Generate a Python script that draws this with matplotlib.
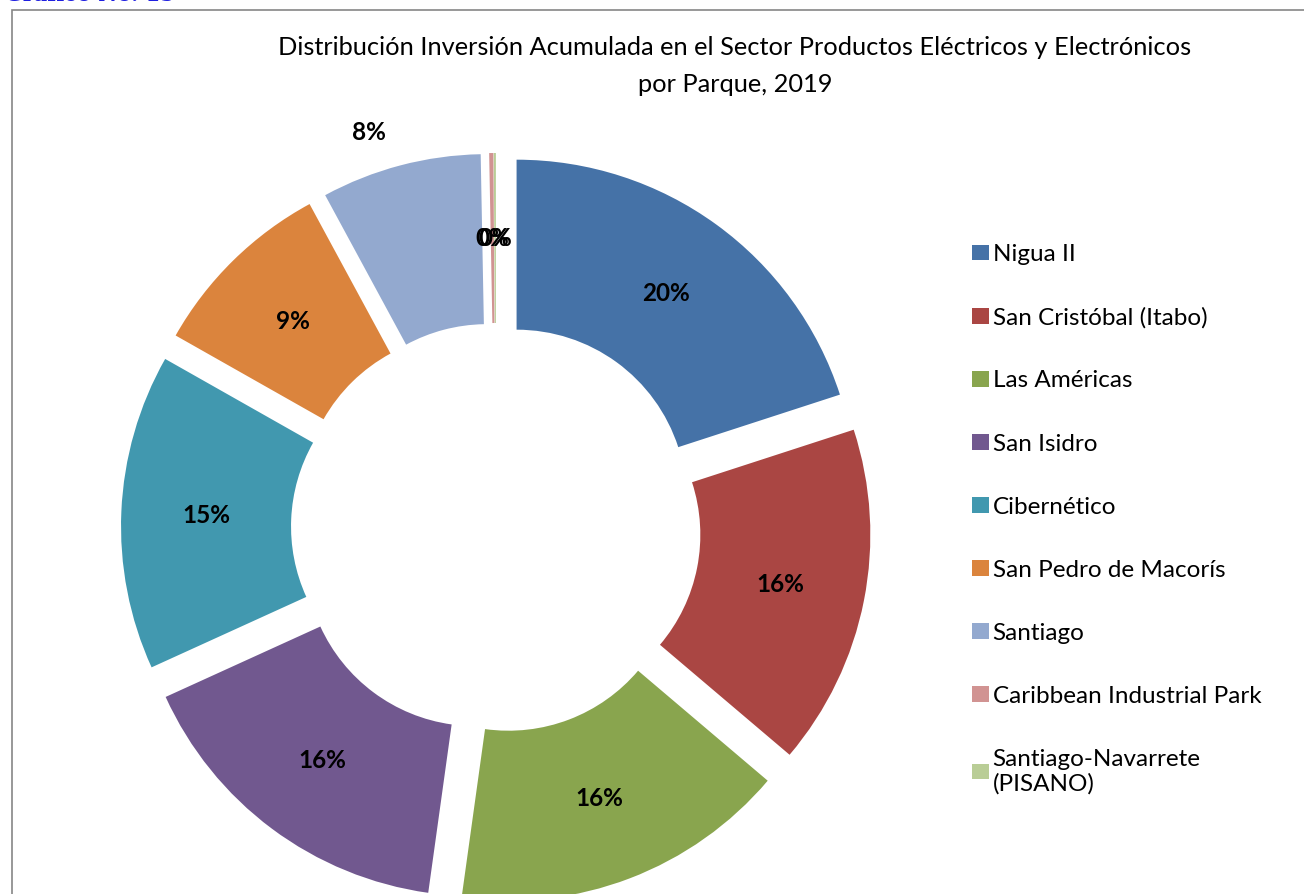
import numpy as np
import matplotlib.pyplot as plt
from matplotlib.patches import Rectangle

plt.rcParams["font.family"] = ["Lato", "DejaVu Sans"]

parques = ["Nigua II", "San Cristóbal (Itabo)", "Las Américas", "San Isidro",
           "Cibernético", "San Pedro de Macorís", "Santiago",
           "Caribbean Industrial Park", "Santiago-Navarrete\n(PISANO)"]
inversion = [20.0, 16.2, 16.0, 16.0, 15.0, 8.9, 7.6, 0.2, 0.1]
colores = ["#4572A7", "#AA4643", "#89A54E", "#71588F", "#4198AF",
           "#DB843D", "#93A9CF", "#D19392", "#B9CD96"]

titulo = ("Distribución Inversión Acumulada en el Sector Productos Eléctricos y Electrónicos\n"
          "por Parque, 2019")

fig = plt.figure(figsize=(13.04, 8.94), dpi=100)
ax = fig.add_axes([0, 0, 1, 1])

radio = 340
centro = (496, 366)
separa = 35
wedges, texts, autotexts = ax.pie(
    inversion, colors=colores, startangle=90, counterclock=False,
    center=centro, radius=radio, explode=[separa] * len(inversion),
    wedgeprops=dict(width=170, edgecolor="none"),
    autopct="%1.0f%%", pctdistance=0.75,
    textprops=dict(fontsize=17.5, fontweight="bold", color="black"))

ax.set_xlim(0, 1304)
ax.set_ylim(0, 894)
ax.set_aspect("equal")
ax.axis("off")

# Santiago label sits outside the ring
w = wedges[6]
ang = np.deg2rad((w.theta1 + w.theta2) / 2 + 3)
autotexts[6].set_position((centro[0] + (separa + radio * 1.12) * np.cos(ang),
                           centro[1] + (separa + radio * 1.12) * np.sin(ang)))

# chart frame (cropped at right and bottom)
fig.add_artist(Rectangle((11.5 / 1304, -0.1), 1.2, 1 - 10.5 / 894 + 0.1,
                         transform=fig.transFigure, fill=False,
                         edgecolor="#868686", linewidth=1.2))

fig.text(0.004, 1.006, "Gráfico No. 15", fontsize=15, fontweight="bold",
         color="#1F1FE0", family="DejaVu Serif", va="center", ha="left")

fig.text(735 / 1304, 1 - 66 / 894, titulo, ha="center", va="center",
         fontsize=18.3, linespacing=1.75)

fig.legend(wedges, parques, loc="upper left",
           bbox_to_anchor=(950 / 1304, 1 - 222 / 894), frameon=False,
           fontsize=17.5, handlelength=0.7, handleheight=0.6,
           handletextpad=0.15, labelspacing=1.73)

fig.savefig("out.png", dpi=100, facecolor="white")
